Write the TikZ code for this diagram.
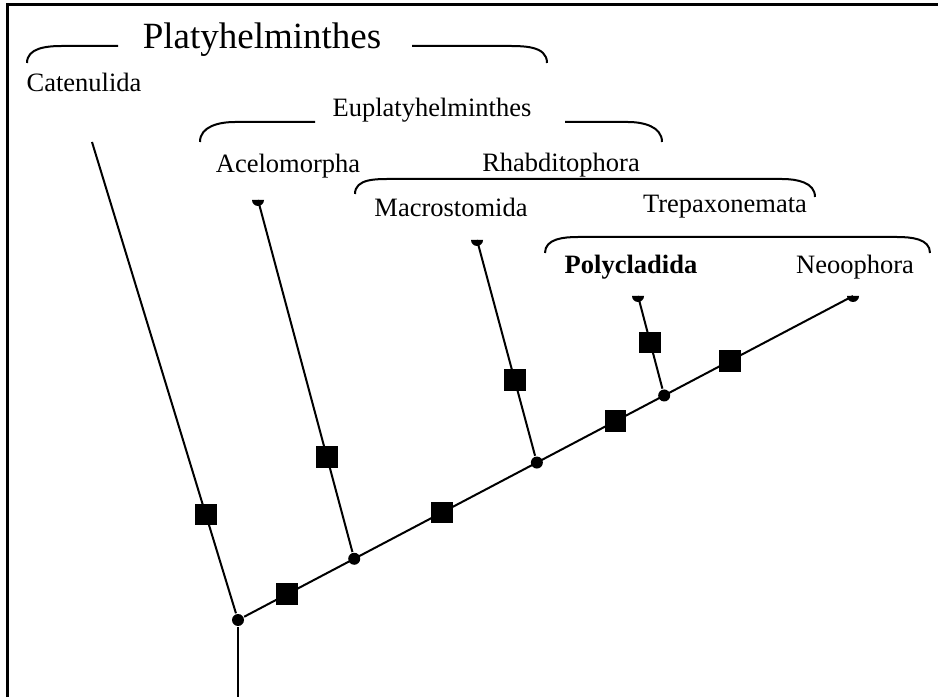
\documentclass[tikz,border=0pt]{standalone}
\usepackage{fontspec}
\setmainfont{Liberation Serif}
\usetikzlibrary{calc}

\tikzset{
  taxon/.style={inner sep=0pt, font=\fontsize{13.25}{16}\selectfont},
  apo/.style={fill=black, minimum size=10.8pt, inner sep=0pt},
  split/.style={circle, fill=black, minimum size=6pt, inner sep=0pt}
}

% half dot sitting under the end of a branch
\newcommand{\tipcap}[1]{\fill (#1) ++(-3pt,0) arc[start angle=180, end angle=360, radius=3pt] -- cycle;}

\begin{document}
\begin{tikzpicture}[x=0.5pt, y=0.5pt, line width=1pt]
	\useasboundingbox (0,0) rectangle (938,697);

	% Frame
	\draw[line width=1.5pt] (7,0) -- (7,692) -- (938,692);

	% Group names with their brackets
	\node[taxon, font=\fontsize{18.5}{22}\selectfont] (platy) at (262,657) {Platyhelminthes};
	\draw (27,634) to[out=90, in=180] (62,651) -- (118,651);
	\draw (412,651) -- (505,651) to[out=0, in=90] (547,634);

	\node[taxon] (catenulida) at (84,615) {Catenulida};

	\node[taxon] (eupl) at (432,587) {Euplatyhelminthes};
	\draw (200,555) to[out=90, in=180] (235,575) -- (315,575);
	\draw (565,575) -- (628,575) to[out=0, in=90] (662,555);

	\node[taxon] (acelomorpha) at (288,531) {Acelomorpha};
	\node[taxon] (rhabd) at (561,532) {Rhabditophora};
	\draw (355,503) to[out=90, in=180] (392,518) -- (782,518) to[out=0, in=90] (815,500);

	\node[taxon] (macrostomida) at (451,490) {Macrostomida};
	\node[taxon] (trepax) at (725,490) {Trepaxonemata};
	\draw (545,444) to[out=90, in=180] (578,460) -- (897,460) to[out=0, in=90] (930,444);

	\node[taxon, font=\fontsize{13.25}{16}\selectfont\bfseries] (polycladida) at (631,430) {Polycladida};
	\node[taxon] (neoophora) at (855,430) {Neoophora};

	% Tree
	\coordinate (base) at (238,0);
	\coordinate (cattip) at (92,555);
	\coordinate (aceltip) at (258,497);
	\coordinate (macrotip) at (477,457);
	\coordinate (polytip) at (638,401);
	\coordinate (neotip) at (853,401);

	\node[split] (root) at (238,77) {};
	\node[split] (acel) at ($(root)!0.189!(neotip)$) {};
	\node[split] (macro) at ($(root)!0.486!(neotip)$) {};
	\node[split] (poly) at ($(root)!0.693!(neotip)$) {};

	\draw (root) -- (base);
	\draw (root) -- node[apo, pos=0.21] {} (cattip);
	\draw (root) -- node[apo, pos=0.07] {} node[apo, pos=0.325] {}
		node[apo, pos=0.61] {} node[apo, pos=0.798] {} (neotip);
	\draw (acel) -- node[apo, pos=0.27] {} (aceltip);
	\draw (macro) -- node[apo, pos=0.35] {} (macrotip);
	\draw (poly) -- node[apo, pos=0.5] {} (polytip);

	\tipcap{aceltip}
	\tipcap{macrotip}
	\tipcap{polytip}
	\tipcap{neotip}

\end{tikzpicture}
\end{document}
